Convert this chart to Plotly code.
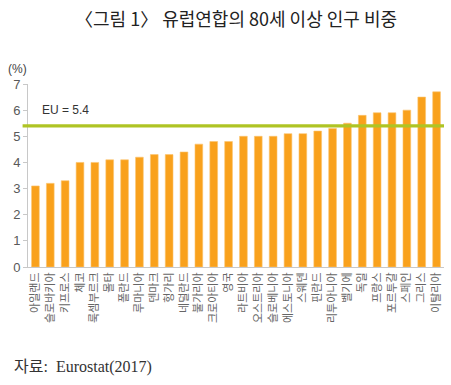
import plotly.graph_objects as go

countries = ["아일랜드", "슬로바키아", "키프로스", "체코", "룩셈부르크", "몰타", "폴란드",
             "루마니아", "덴마크", "헝가리", "네덜란드", "불가리아", "크로아티아", "영국",
             "라트비아", "오스트리아", "슬로베니아", "에스토니아", "스웨덴", "핀란드",
             "리투아니아", "벨기에", "독일", "프랑스", "포르투갈", "스페인", "그리스", "이탈리아"]
values = [3.1, 3.2, 3.3, 4.0, 4.0, 4.1, 4.1, 4.2, 4.3, 4.3, 4.4, 4.7, 4.8, 4.8,
          5.0, 5.0, 5.0, 5.1, 5.1, 5.2, 5.3, 5.5, 5.8, 5.9, 5.9, 6.0, 6.5, 6.7]
eu_value = 5.4
y_ticks = [0, 1, 2, 3, 4, 5, 6, 7]

fig = go.Figure()
fig.add_trace(go.Bar(
    x=countries, y=values,
    marker=dict(color="#F9A11C", line=dict(color="#FBC46E", width=0.6)),
    width=0.52,
))

fig.add_shape(type="line", xref="paper", yref="y", x0=-0.013, x1=1.0,
              y0=eu_value, y1=eu_value, line=dict(color="#AFC424", width=3.2))
fig.add_annotation(xref="paper", yref="y", x=0.028, y=eu_value + 0.25,
                   text=f"EU = {eu_value}", showarrow=False, xanchor="left", yanchor="bottom",
                   font=dict(family="Liberation Sans Narrow, Liberation Sans, sans-serif",
                             size=12, color="#333333"))

fig.update_layout(
    width=451, height=385,
    margin=dict(l=28, r=7, t=84, b=118),
    paper_bgcolor="white", plot_bgcolor="white",
    showlegend=False,
    title=dict(text="〈그림 1〉 유럽연합의 80세 이상 인구 비중", x=0.5, xanchor="center",
               xref="paper", y=0.948, yref="container", yanchor="middle",
               font=dict(family="Noto Sans CJK KR, sans-serif", size=18, color="#222222")),
    font=dict(family="Noto Sans CJK KR, sans-serif"),
)
fig.update_yaxes(range=[0, 7], tickvals=y_ticks, showgrid=False, zeroline=False,
                 showline=True, linecolor="#C8C8C8", linewidth=1, automargin=False,
                 ticks="outside", ticklen=4, tickcolor="#C8C8C8",
                 tickfont=dict(family="Liberation Sans Narrow, Liberation Sans, sans-serif",
                               size=13, color="#595959"))
fig.update_xaxes(showgrid=False, showline=True, linecolor="#C8C8C8", linewidth=1,
                 tickangle=-90, ticks="", automargin=False,
                 tickfont=dict(family="Noto Sans CJK KR, sans-serif", size=11, color="#666666"))

fig.add_annotation(xref="paper", yref="paper", x=-0.052, y=1.035, text="(%)", showarrow=False,
                   xanchor="left", yanchor="bottom",
                   font=dict(family="Liberation Sans Narrow, Liberation Sans, sans-serif",
                             size=12, color="#444444"))
fig.add_annotation(xref="paper", yref="paper", x=-0.038, y=-0.545, text="자료:  Eurostat(2017)",
                   showarrow=False, xanchor="left", yanchor="middle",
                   font=dict(family="Liberation Serif, Noto Sans CJK KR, serif",
                             size=16, color="#333333"))

fig.write_html("out.html", config={"displayModeBar": False},
               post_script="document.body.style.margin='0';")
